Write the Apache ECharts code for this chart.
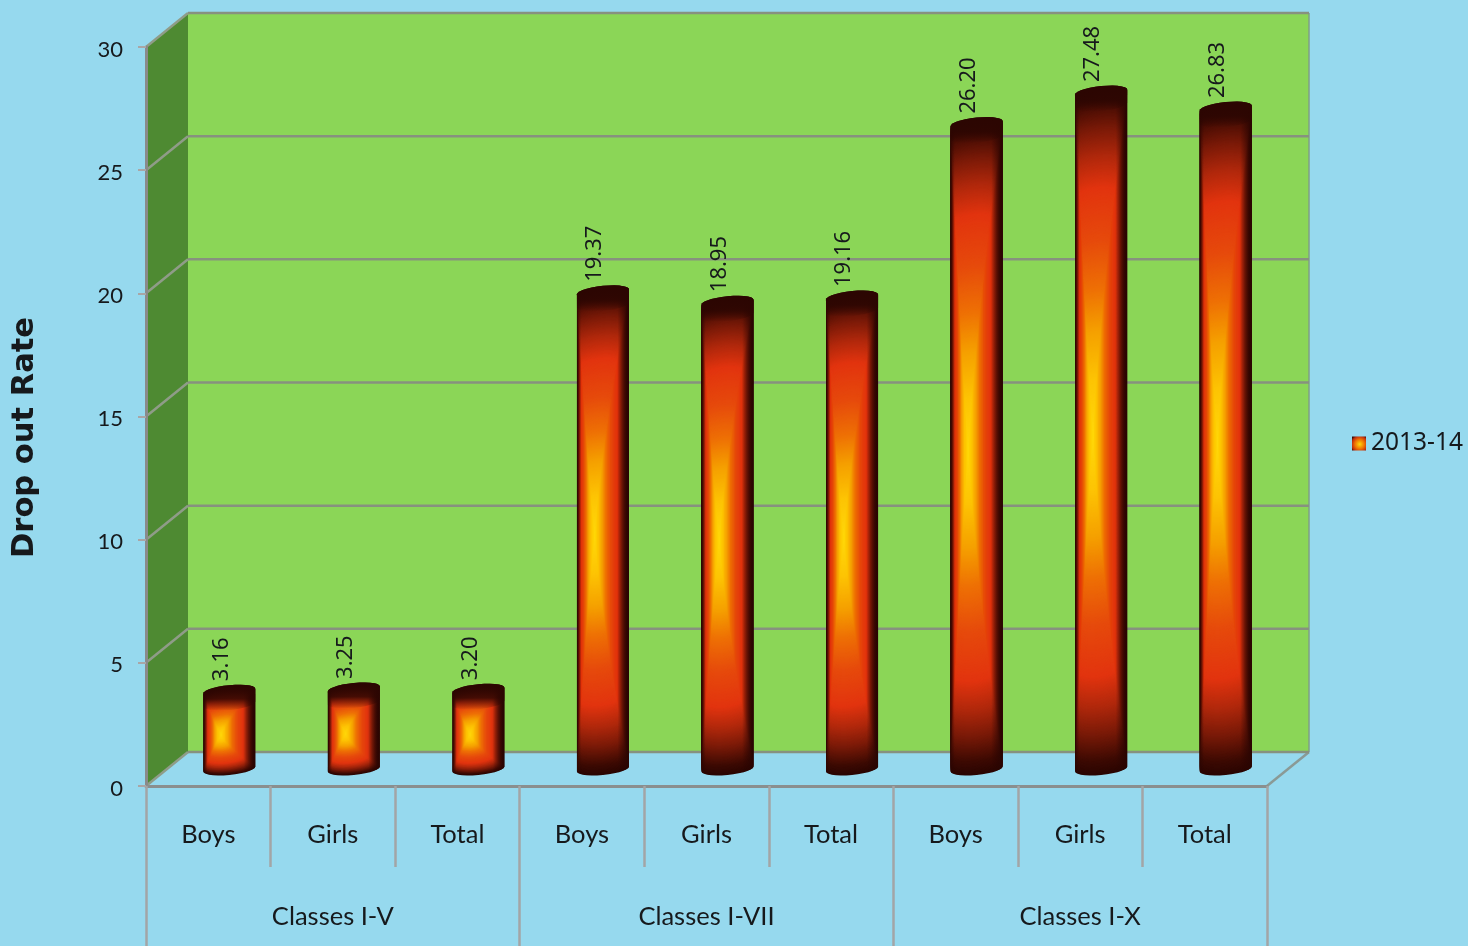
<!DOCTYPE html>
<html><head><meta charset="utf-8">
<style>html,body{margin:0;padding:0;background:#96d9ee}#c{width:1468px;height:946px}</style>
<script src="https://cdn.jsdelivr.net/npm/echarts@6/dist/echarts.min.js"></script>
</head><body><div id="c"></div>
<script>
const categories = ['Boys','Girls','Total','Boys','Girls','Total','Boys','Girls','Total'];
const groups = ['Classes I-V','Classes I-VII','Classes I-X'];
const values = [3.16,3.25,3.20,19.37,18.95,19.16,26.20,27.48,26.83];
const labels = ['3.16','3.25','3.20','19.37','18.95','19.16','26.20','27.48','26.83'];
const yTicks = [0,5,10,15,20,25,30];
const seriesName = '2013-14';

const DX = 42, DY = 34, HALF = 26, FOCUS = -8;
const stops = [[0,[255,216,10]],[.16,[253,196,4]],[.3,[245,160,0]],[.42,[238,112,5]],[.56,[230,74,12]],[.71,[226,52,15]],[.8,[176,40,12]],[.88,[122,26,8]],[.96,[60,10,3]],[1,[42,5,2]]];
function ramp(t){
  for(let i=1;i<stops.length;i++){
    if(t<=stops[i][0]){
      const a=stops[i-1],b=stops[i],k=(t-a[0])/(b[0]-a[0]);
      return 'rgb('+a[1].map((c,j)=>Math.round(c+(b[1][j]-c)*k)).join(',')+')';
    }
  }
  return 'rgb(42,5,2)';
}
function arc(cx,cy,from,to,n){
  const pts=[];
  for(let i=0;i<=n;i++){
    const th=from+(to-from)*i/n;
    pts.push([cx+HALF*Math.cos(th), cy+6*Math.sin(th)-2.5*Math.cos(th)]);
  }
  return pts;
}
function renderBar(params,api){
  const i=api.value(0), v=api.value(1);
  const top=api.coord([i,v]), base=api.coord([i,0]);
  const cx=top[0]+DX/2, cyT=top[1]-DY/2, cyB=base[1]-DY/2;
  const outline=arc(cx,cyT,Math.PI,2*Math.PI,14).concat(arc(cx,cyB,0,Math.PI,14));
  const fx=cx+FOCUS, fy=(cyT+cyB)/2+5;
  const children=[];
  const N=Math.max(60,Math.round((cyB-cyT)/1.5));
  for(let s=N;s>=1;s--){
    const t=s/N, gr=Math.pow(t,1.3), gl=Math.pow(t,.85);
    children.push({type:'polygon',shape:{points:outline.map(p=>[fx+(p[0]-fx)*(p[0]>fx?gr:gl),fy+(p[1]-fy)*t])},style:{fill:ramp(t)}});
  }
  // cylinder edge shading across the width
  children.push({type:'polygon',shape:{points:outline},style:{fill:{type:'linear',x:0,y:0,x2:1,y2:0,colorStops:[
    {offset:0,color:'rgba(42,5,2,.65)'},{offset:.08,color:'rgba(42,5,2,0)'},{offset:.78,color:'rgba(42,5,2,0)'},{offset:.93,color:'rgba(42,5,2,.65)'},{offset:1,color:'rgba(42,5,2,.95)'}]}}});
  // soft fade below the cap
  const fade=arc(cx,cyT,Math.PI,2*Math.PI,14).concat(arc(cx,cyT+13,0,Math.PI,14));
  children.push({type:'polygon',shape:{points:fade},style:{fill:{type:'linear',x:0,y:0,x2:0,y2:1,colorStops:[
    {offset:0,color:'rgba(44,6,2,1)'},{offset:.55,color:'rgba(44,6,2,.85)'},{offset:1,color:'rgba(44,6,2,0)'}]}}});
  children.push({type:'text',x:cx+FOCUS,y:cyT-10,rotation:Math.PI/2,style:{text:labels[params.dataIndex],align:'left',verticalAlign:'middle',font:'22px "Noto Sans"',fill:'#16191c'}});
  return {type:'group',children};
}
function renderWalls(params){
  const r=params.coordSys, x=r.x,y=r.y,w=r.width,h=r.height;
  return {type:'group',children:[
    {type:'rect',shape:{x:x+DX,y:y-DY,width:w,height:h},style:{fill:'#8bd657'}},
    {type:'polygon',shape:{points:[[x,y],[x+DX,y-DY],[x+DX,y+h-DY],[x,y+h]]},style:{fill:'#4e8a32'}},
    {type:'line',shape:{x1:x+w+DX,y1:y-DY,x2:x+w+DX,y2:y+h-DY},style:{stroke:'#7f9f85',lineWidth:1.5}},
    {type:'line',shape:{x1:x+w,y1:y+h,x2:x+w+DX,y2:y+h-DY},style:{stroke:'#8a9a96',lineWidth:2.5}}
  ]};
}
function renderGrid(params,api){
  const r=params.coordSys, p=api.coord([0,api.value(1)]);
  const y=p[1];
  return {type:'group',children:[
    {type:'line',shape:{x1:r.x+DX,y1:y-DY,x2:r.x+r.width+DX,y2:y-DY},style:{stroke:'#87917f',lineWidth:2.5}},
    {type:'line',shape:{x1:r.x,y1:y,x2:r.x+DX,y2:y-DY},style:{stroke:'#8f9c88',lineWidth:2.5}}
  ]};
}
const chart=echarts.init(document.getElementById('c'),null,{renderer:'canvas'});
chart.setOption({
  animation:false,
  backgroundColor:'#96d9ee',
  textStyle:{fontFamily:'Lato'},
  legend:{
    left:1352,top:431,padding:0,itemWidth:14,itemHeight:14,itemGap:0,
    data:[{name:seriesName,icon:'rect',itemStyle:{color:{type:'radial',x:.55,y:.55,r:.7,colorStops:[{offset:0,color:'#ffd80a'},{offset:.5,color:'#ee7005'},{offset:.8,color:'#c2300c'},{offset:1,color:'#3c0a03'}]}}}],
    textStyle:{fontFamily:'"Noto Sans"',fontSize:24.5,color:'#16191c'}
  },
  grid:{left:146,top:47,width:1121,height:739},
  xAxis:[
    {type:'category',data:categories,position:'bottom',z:6,
     axisLine:{lineStyle:{color:'#8a8f8f',width:3}},
     axisTick:{show:true,length:81,lineStyle:{color:'#a3a5a6',width:2.5}},
     axisLabel:{margin:36,fontFamily:'Lato',fontSize:25.5,color:'#16191c',interval:0},splitLine:{show:false}},
    {type:'category',data:groups,position:'bottom',z:6,
     axisLine:{show:false},
     axisTick:{show:true,length:170,lineStyle:{color:'#a3a5a6',width:2.5}},
     axisLabel:{margin:118,fontFamily:'Lato',fontSize:25.5,color:'#16191c',interval:0},splitLine:{show:false}}
  ],
  yAxis:{type:'value',min:0,max:30,interval:5,z:6,
    name:'Drop out Rate',nameLocation:'middle',nameRotate:90,nameGap:105,
    nameTextStyle:{fontFamily:'"DejaVu Sans"',fontWeight:'bold',fontSize:30.5,color:'#16191c',padding:[0,42,0,0]},
    axisLine:{show:true,lineStyle:{color:'#8a8a8a',width:3}},
    axisTick:{show:true,length:8,lineStyle:{color:'#a9a6a6',width:2}},
    axisLabel:{margin:23,fontFamily:'Lato',fontSize:22,color:'#16191c',verticalAlign:'top',lineHeight:5},
    splitLine:{show:false}
  },
  series:[
    {type:'custom',silent:true,z:1,clip:false,renderItem:renderWalls,data:[[0,0]],tooltip:{show:false}},
    {type:'custom',silent:true,z:2,clip:false,renderItem:renderGrid,data:yTicks.map(t=>[0,t])},
    {type:'custom',name:seriesName,z:3,clip:false,renderItem:renderBar,data:values.map((v,i)=>[i,v]),encode:{x:0,y:1}}
  ]
});
</script></body></html>
